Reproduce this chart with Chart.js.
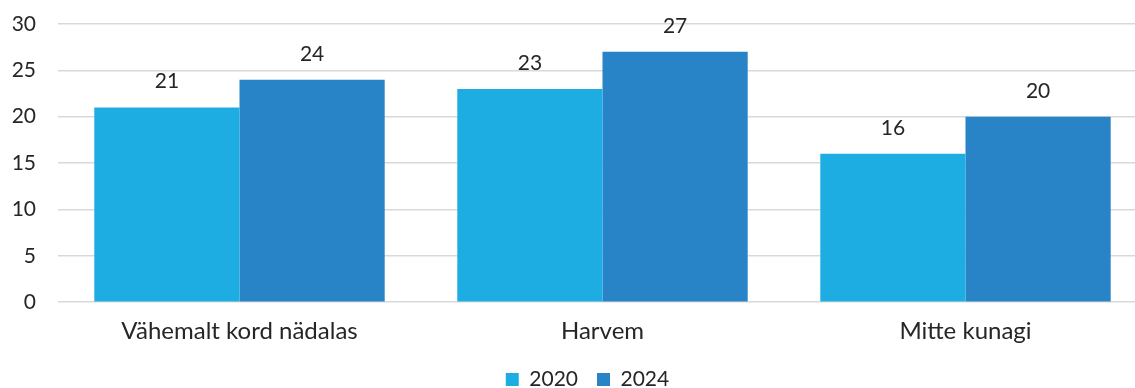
<!DOCTYPE html>
<html>
<head>
<meta charset="utf-8">
<script src="https://cdn.jsdelivr.net/npm/chart.js@4/dist/chart.umd.min.js"></script>
<style>
  html, body { margin: 0; padding: 0; background: #fff; overflow: hidden; }
  #wrap { width: 1147px; height: 388px; }
</style>
</head>
<body>
<div id="wrap"><canvas id="bar_chart" width="1147" height="388"></canvas></div>
<script>
var categories = ["Vähemalt kord nädalas", "Harvem", "Mitte kunagi"];
var values2020 = [21, 23, 16];
var values2024 = [24, 27, 20];
var yTicks = [0, 5, 10, 15, 20, 25, 30];

// draw the value above each bar
var valueLabels = {
    id: 'valueLabels',
    afterDatasetsDraw: function (chart) {
        var ctx = chart.ctx;
        ctx.save();
        ctx.font = '21px Lato';
        ctx.fillStyle = '#262626';
        ctx.textAlign = 'center';
        ctx.textBaseline = 'alphabetic';
        chart.data.datasets.forEach(function (ds, i) {
            chart.getDatasetMeta(i).data.forEach(function (bar, j) {
                ctx.fillText(ds.data[j], bar.x, bar.y - 19);
            });
        });
        ctx.restore();
    }
};

// legend sits a bit right of the canvas centre in the original
var legendShift = {
    id: 'legendShift',
    afterLayout: function (chart) {
        var lg = chart.legend;
        lg.left += 14;
        lg.right += 14;
        lg.top -= 11;
        lg.bottom -= 11;
    }
};

new Chart(document.getElementById("bar_chart").getContext("2d"), {
    type: 'bar',
    data: {
        labels: categories,
        datasets: [{
            label: "2020",
            data: values2020,
            backgroundColor: 'rgb(30,173,227)',
            categoryPercentage: 0.8,
            barPercentage: 1.0
        }, {
            label: "2024",
            data: values2024,
            backgroundColor: 'rgb(40,132,198)',
            categoryPercentage: 0.8,
            barPercentage: 1.0
        }]
    },
    options: {
        responsive: false,
        animation: false,
        layout: { padding: { left: 0, top: 24, right: 0, bottom: -23 } },
        scales: {
            x: {
                grid: { display: false, drawTicks: false },
                border: { display: false },
                ticks: { color: '#262626', font: { family: 'Lato', size: 24 }, padding: 15, maxRotation: 0 }
            },
            y: {
                min: 0,
                max: 30,
                afterFit: function (scale) {
                    scale.width = 58;
                    // tick padding would otherwise push the plot down
                    scale.paddingTop = 10;
                    scale.paddingBottom = 0;
                },
                afterBuildTicks: function (scale) {
                    scale.ticks = yTicks.map(function (v) { return { value: v }; });
                },
                grid: { color: '#d9d9d9', lineWidth: 1.5, drawTicks: false },
                border: { display: false },
                ticks: { color: '#262626', font: { family: 'Lato', size: 21 }, padding: 22 }
            }
        },
        plugins: {
            legend: {
                position: 'bottom',
                labels: {
                    boxWidth: 13,
                    boxHeight: 13,
                    padding: 19,
                    color: '#262626',
                    font: { family: 'Lato', size: 21 }
                }
            },
            tooltip: { enabled: false }
        }
    },
    plugins: [valueLabels, legendShift]
});
</script>
</body>
</html>
